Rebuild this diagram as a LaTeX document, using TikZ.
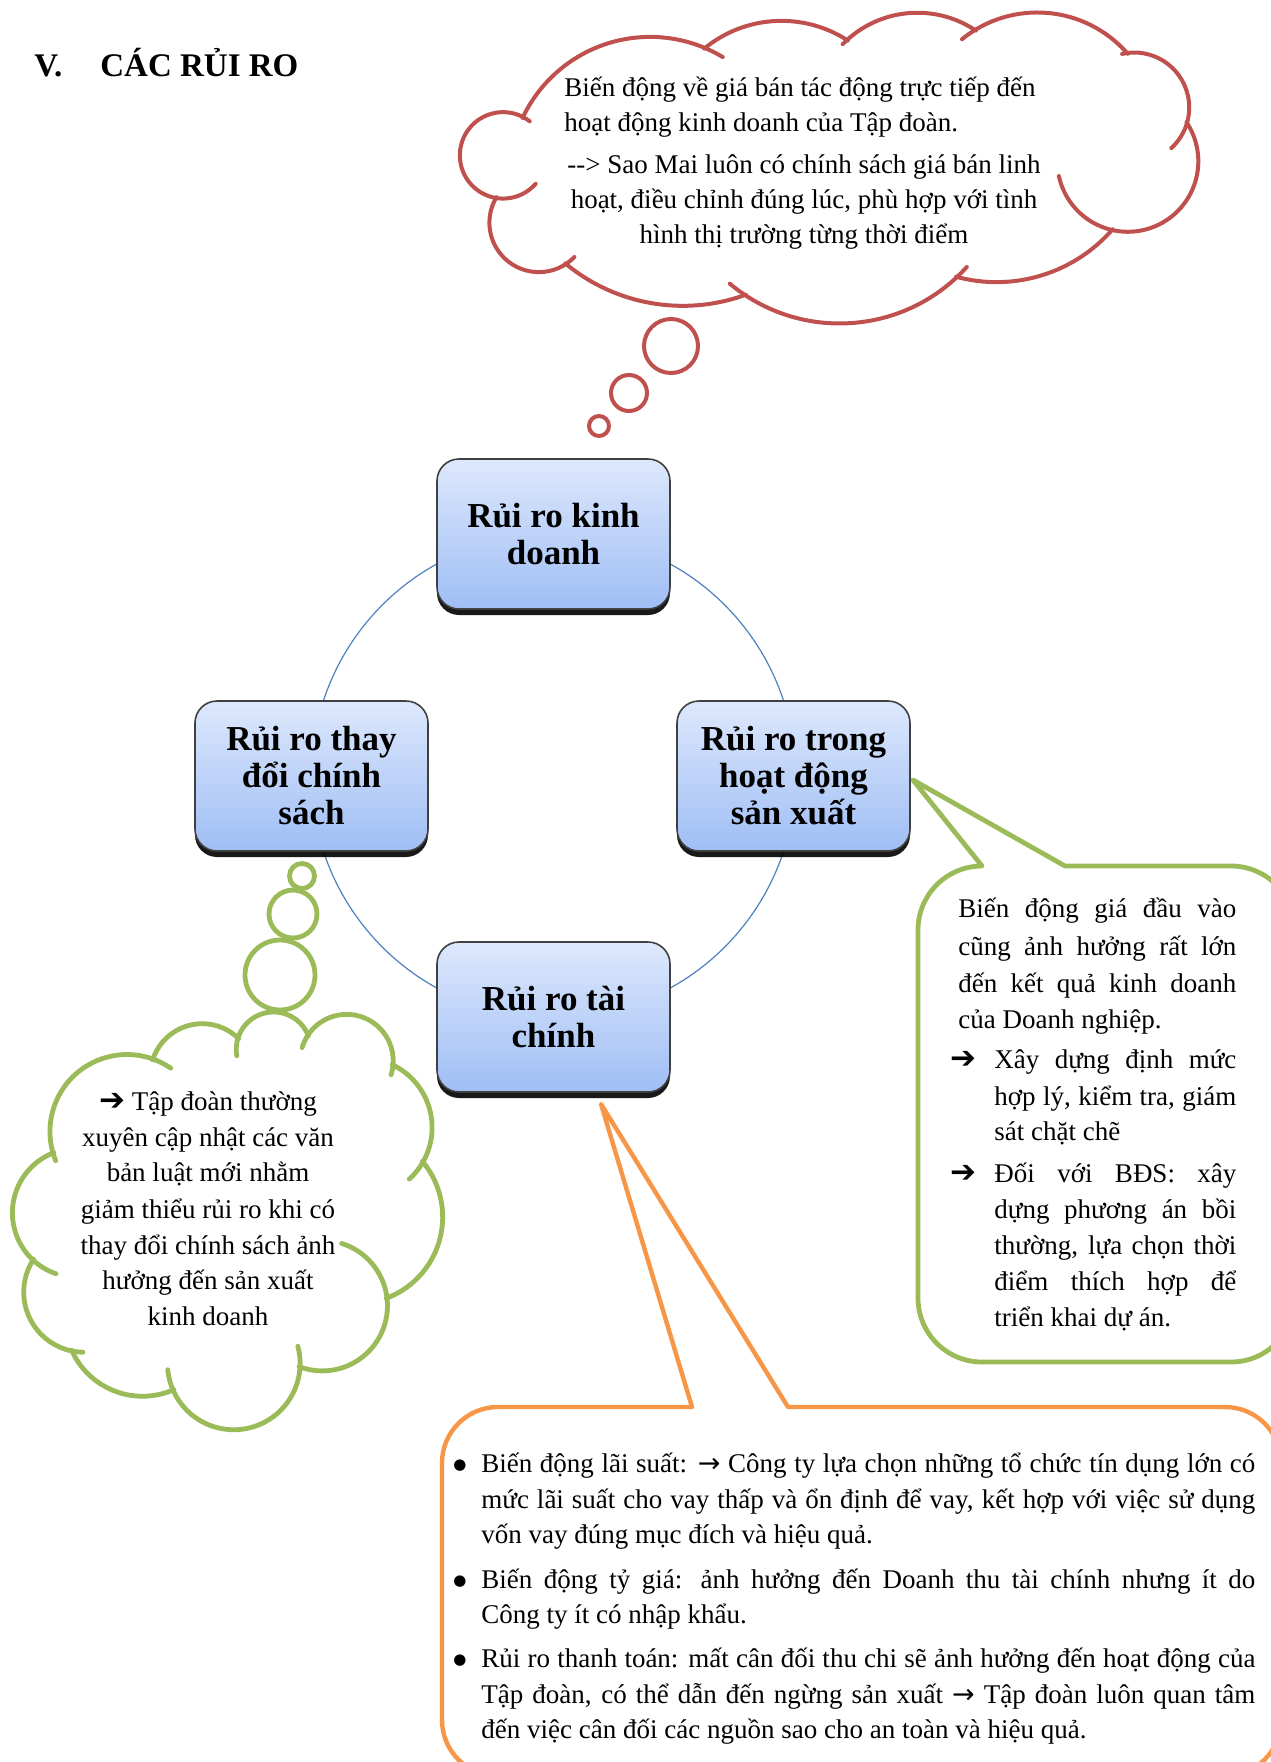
\documentclass[tikz,border=0pt]{standalone}
\usepackage{fontspec}
\setmainfont{Liberation Serif}
\newfontfamily\dvs{DejaVu Sans}
\usetikzlibrary{shadows}
\definecolor{cred}{HTML}{C0504D}
\definecolor{cgreen}{HTML}{9BBB59}
\definecolor{corange}{HTML}{F79646}
\definecolor{cblue}{HTML}{4F81BD}
\definecolor{boxtop}{HTML}{DDE8FC}
\definecolor{boxbot}{HTML}{9FBEF5}
\newcommand\bodyfont{\fontsize{13.5}{18}\selectfont}
\newcommand\boxfont{\fontsize{17.5}{18.5}\selectfont\bfseries}
\newcommand\titlefont{\fontsize{16.5}{20}\selectfont\bfseries}
\newcommand\jst[2]{\makebox[#1][s]{#2}}
\newcommand\hvy{{\dvs\fontsize{15.5}{15.5}\selectfont ➔}}
\newcommand\thn{{\dvs →}}
\newcommand\bul{{\dvs\fontsize{7.5}{7.5}\selectfont ●}}
% draws the bumps of a cloud: start x/start y/end x/end y/sagitta/overshoot at start/overshoot at end
\newcommand\cloudarcs[2]{%
  \foreach \ax/\ay/\bx/\by/\sg/\eo/\et in {#2} {%
    \pgfmathsetmacro\ddx{\bx-\ax}%
    \pgfmathsetmacro\ddy{\by-\ay}%
    \pgfmathsetmacro\chd{veclen(\ddx,\ddy)}%
    \pgfmathsetmacro\rad{\chd/8*\chd/\sg+\sg/2}%
    \pgfmathsetmacro\ccx{(\ax+\bx)/2-\ddy/\chd*(\rad-\sg)}%
    \pgfmathsetmacro\ccy{(\ay+\by)/2+\ddx/\chd*(\rad-\sg)}%
    \pgfmathsetmacro\sang{atan2(\ay-\ccy,\ax-\ccx)}%
    \pgfmathsetmacro\eang{atan2(\by-\ccy,\bx-\ccx)}%
    \pgfmathsetmacro\eang{\eang<\sang ? \eang+360 : \eang}%
    \pgfmathsetmacro\sa{\sang-\eo/\rad*57.3}%
    \pgfmathsetmacro\ea{\eang+\et/\rad*57.3}%
    \draw[#1] (\ccx,\ccy) ++(\sa:\rad) arc[start angle=\sa, end angle=\ea, radius=\rad];
  }}
\tikzset{
  txt/.style={font=\bodyfont, inner sep=0pt},
  rbox/.style={draw=black!75, line width=0.8pt, rounded corners=11pt,
    minimum width=116.5pt, minimum height=75pt, inner sep=0pt,
    top color=boxtop, bottom color=boxbot, align=center, font=\boxfont,
    drop shadow={shadow xshift=0pt, shadow yshift=-3pt, opacity=0.9, fill=black}},
  redline/.style={draw=cred, line width=2pt, line cap=round},
  greenline/.style={draw=cgreen, line width=2.4pt, line cap=round},
  orangeline/.style={draw=corange, line width=2.2pt, line join=round},
  ringline/.style={draw=cblue, line width=0.6pt},
}
\begin{document}
\begin{tikzpicture}[x=0.5pt, y=-0.5pt]
\useasboundingbox (0,0) rectangle (1270,1762);
\fill[white] (0,0) rectangle (1270,1762);

% title
\node[anchor=base west, font=\titlefont, inner sep=0pt] (tv) at (34,76) {V.};
\node[anchor=base west, font=\titlefont, inner sep=0pt] (tt) at (100,76) {CÁC RỦI RO};

% top red thought cloud
\cloudarcs{redline}{496/198/523/117/50/44/8, 523/117/705/48/39/1/20, 705/48/847/40/23/1/1,
  847/40/975/30/22/6/1, 975/30/1127/53/28/16/1, 1127/53/1187/123/25/5/30,
  1187/123/1112/230/44/1/80, 1112/230/957/277/23/1/1, 957/277/745/295/37/14/19,
  745/295/566/264/24/1/1, 566/264/496/198/38/11/1}
\draw[redline] (671,346) circle[radius=27];
\draw[redline] (629,393) circle[radius=18];
\draw[redline] (599,426) circle[radius=10];
\node[txt, anchor=base west] (c1) at (564,96) {Biến động về giá bán tác động trực tiếp đến};
\node[txt, anchor=base west] (c2) at (564,131) {hoạt động kinh doanh của Tập đoàn.};
\node[txt, anchor=base] (c3) at (804,173) {-{}-{}> Sao Mai luôn có chính sách giá bán linh};
\node[txt, anchor=base] (c4) at (804,208) {hoạt, điều chỉnh đúng lúc, phù hợp với tình};
\node[txt, anchor=base] (c5) at (804,243) {hình thị trường từng thời điểm};

% ring linking the four risks
\draw[ringline] (553.5,776) circle[radius=242];

% risk boxes
\node[rbox] (kd) at (553.5,534) {Rủi ro kinh\\doanh};
\node[rbox] (cs) at (311.5,776) {Rủi ro thay\\đổi chính\\sách};
\node[rbox] (sx) at (793.5,776) {Rủi ro trong\\hoạt động\\sản xuất};
\node[rbox] (tc) at (553.5,1017) {Rủi ro tài\\chính};

% left green thought cloud
\cloudarcs{greenline}{33/1260/53/1153/30/27/1, 53/1153/153/1059/42/8/20,
  153/1059/238/1038/24/1/1, 238/1038/308/1035/24.5/18/1, 308/1035/393/1065/35/14/10,
  393/1065/423/1162/22/1/22, 423/1162/387/1298/36/1/1, 387/1298/300/1367/31/75/1,
  300/1367/173/1390/51/21/21, 173/1390/72/1351/22/1/1, 72/1351/33/1260/26/11/1}
\draw[greenline] (302,876) circle[radius=12.5];
\draw[greenline] (293,914) circle[radius=24];
\draw[greenline] (280,975) circle[radius=35];
\node[txt, anchor=base] (l1) at (208,1110) {\hvy\ Tập đoàn thường};
\node[txt, anchor=base] (l2) at (208,1146) {xuyên cập nhật các văn};
\node[txt, anchor=base] (l3) at (208,1181) {bản luật mới nhằm};
\node[txt, anchor=base] (l4) at (208,1218) {giảm thiểu rủi ro khi có};
\node[txt, anchor=base] (l5) at (208,1254) {thay đổi chính sách ảnh};
\node[txt, anchor=base] (l6) at (208,1289) {hưởng đến sản xuất};
\node[txt, anchor=base] (l7) at (208,1325) {kinh doanh};

% right green callout
\coordinate (gtip) at (913,780);
\draw[greenline, line cap=butt, line join=round] (982,866) -- (gtip) -- (1065,866) -- (1231,866)
  arc[start angle=-90, end angle=0, radius=64] -- (1295,1298)
  arc[start angle=0, end angle=90, radius=64] -- (982,1362)
  arc[start angle=90, end angle=180, radius=64] -- (918,930)
  arc[start angle=180, end angle=270, radius=64] -- cycle;
\node[txt, anchor=base west] (g1) at (958,917) {\jst{139pt}{Biến động giá đầu vào}};
\node[txt, anchor=base west] (g2) at (958,955) {\jst{139pt}{cũng ảnh hưởng rất lớn}};
\node[txt, anchor=base west] (g3) at (958,992) {\jst{139pt}{đến kết quả kinh doanh}};
\node[txt, anchor=base west] (g4) at (958,1028) {của Doanh nghiệp.};
\node[txt, anchor=base west] (ga) at (950,1068) {\hvy};
\node[txt, anchor=base west] (g5) at (994,1068) {\jst{121pt}{Xây dựng định mức}};
\node[txt, anchor=base west] (g6) at (994,1105) {\jst{121pt}{hợp lý, kiểm tra, giám}};
\node[txt, anchor=base west] (g7) at (994,1140) {sát chặt chẽ};
\node[txt, anchor=base west] (gb) at (950,1182) {\hvy};
\node[txt, anchor=base west] (g8) at (994,1182) {\jst{121pt}{Đối với BĐS: xây}};
\node[txt, anchor=base west] (g9) at (994,1218) {\jst{121pt}{dựng phương án bồi}};
\node[txt, anchor=base west] (g10) at (994,1254) {\jst{121pt}{thường, lựa chọn thời}};
\node[txt, anchor=base west] (g11) at (994,1290) {\jst{121pt}{điểm thích hợp để}};
\node[txt, anchor=base west] (g12) at (994,1326) {triển khai dự án.};

% bottom orange callout
\coordinate (otip) at (601,1104);
\draw[orangeline] (692,1407) -- (otip) -- (788,1407) -- (1225,1407)
  arc[start angle=-90, end angle=0, radius=56] -- (1281,1720)
  arc[start angle=0, end angle=90, radius=56] -- (498,1776)
  arc[start angle=90, end angle=180, radius=56] -- (442,1463)
  arc[start angle=180, end angle=270, radius=56] -- cycle;
\node[txt, anchor=base west] (ob1) at (453,1469) {\bul};
\node[txt, anchor=base west] (ob2) at (453,1585) {\bul};
\node[txt, anchor=base west] (ob3) at (453,1664) {\bul};
\node[txt, anchor=base west] (o1) at (481,1472) {\jst{387pt}{Biến động lãi suất: \thn\ Công ty lựa chọn những tổ chức tín dụng lớn có}};
\node[txt, anchor=base west] (o2) at (481,1508) {\jst{387pt}{mức lãi suất cho vay thấp và ổn định để vay, kết hợp với việc sử dụng}};
\node[txt, anchor=base west] (o3) at (481,1543) {vốn vay đúng mục đích và hiệu quả.};
\node[txt, anchor=base west] (o4) at (481,1588) {\jst{387pt}{Biến động tỷ giá: ảnh hưởng đến Doanh thu tài chính nhưng ít do}};
\node[txt, anchor=base west] (o5) at (481,1623) {Công ty ít có nhập khẩu.};
\node[txt, anchor=base west] (o6) at (481,1667) {\jst{387pt}{Rủi ro thanh toán: mất cân đối thu chi sẽ ảnh hưởng đến hoạt động của}};
\node[txt, anchor=base west] (o7) at (481,1703) {\jst{387pt}{Tập đoàn, có thể dẫn đến ngừng sản xuất \thn\ Tập đoàn luôn quan tâm}};
\node[txt, anchor=base west] (o8) at (481,1738) {đến việc cân đối các nguồn sao cho an toàn và hiệu quả.};
\end{tikzpicture}
\end{document}
